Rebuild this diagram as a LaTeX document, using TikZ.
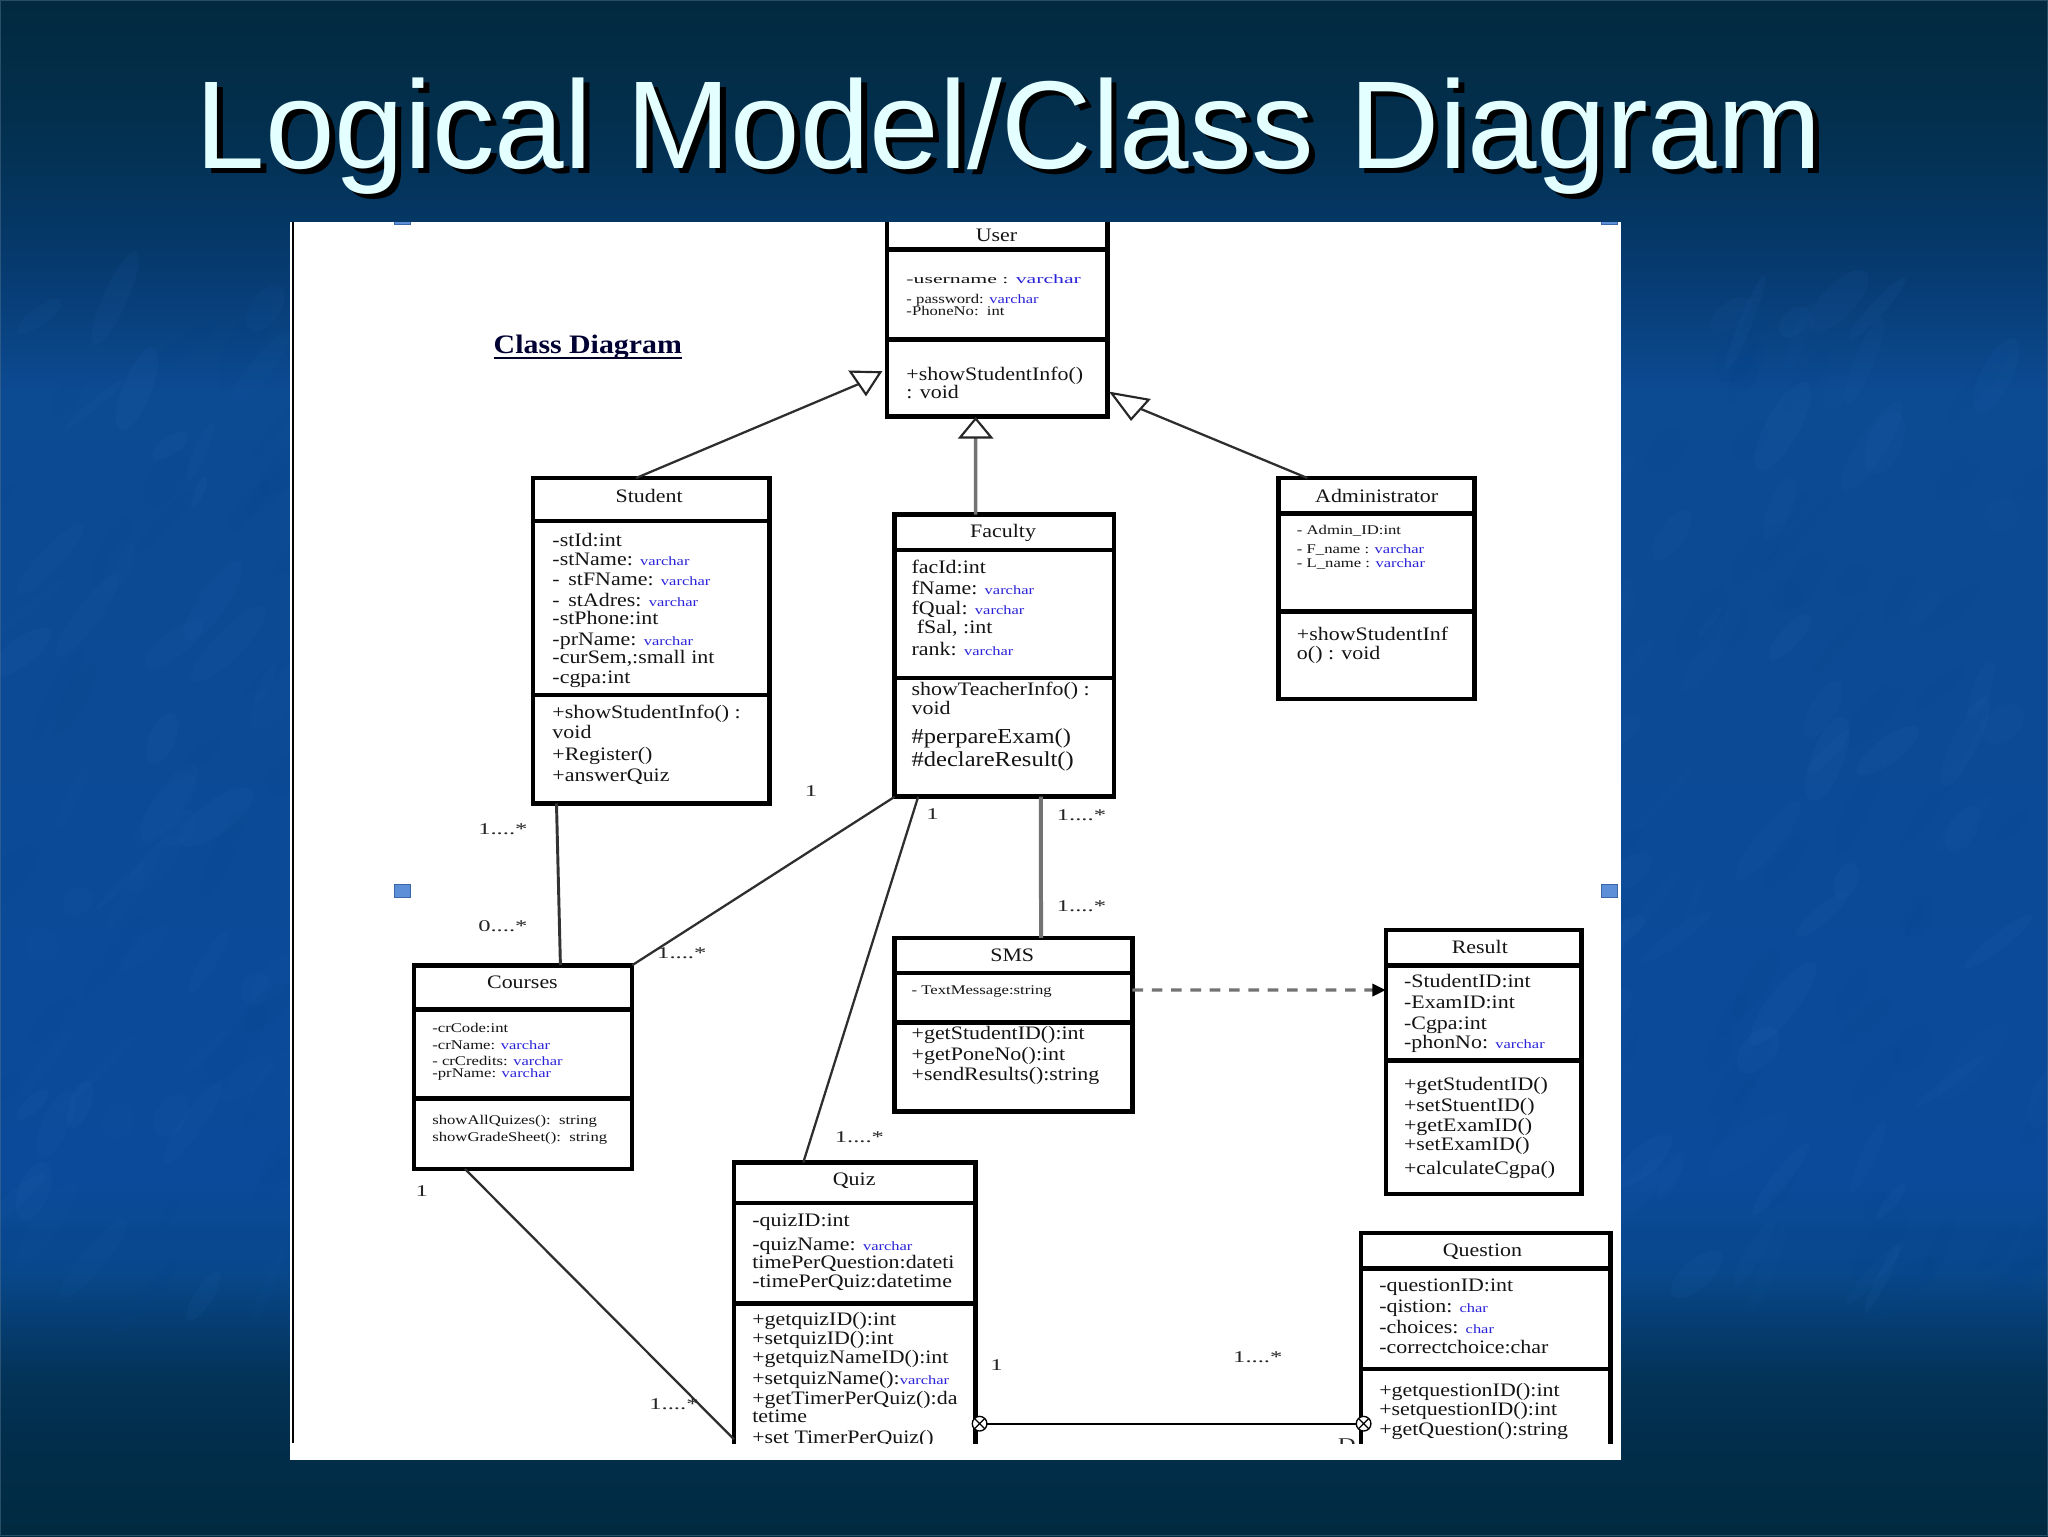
\documentclass[tikz,border=0pt]{standalone}
\usepackage{fontspec}
\usetikzlibrary{fit,arrows.meta,calc}
\setmainfont{Liberation Serif}
\newfontfamily\titlef{Liberation Sans}
\newfontfamily\mainf[FakeStretch=1.15]{Liberation Serif}
\newfontfamily\smallf[FakeStretch=1.25]{Liberation Serif}
\newfontfamily\varf[FakeStretch=1.3]{Liberation Serif}
\newfontfamily\widef[FakeStretch=1.7]{Liberation Serif}
\newfontfamily\multf[FakeStretch=1.5]{Liberation Serif}
\newfontfamily\headf[FakeStretch=1.12]{Liberation Serif Bold}
\definecolor{bgA}{HTML}{012A40}
\definecolor{bgB}{HTML}{022E4C}
\definecolor{bgC}{HTML}{033358}
\definecolor{bgD}{HTML}{08478A}
\definecolor{bgE}{HTML}{0B4A9A}
\definecolor{bgF}{HTML}{0C4A92}
\definecolor{bgG}{HTML}{063A6E}
\definecolor{bgH}{HTML}{03304F}
\definecolor{bgI}{HTML}{02293F}
\definecolor{mottleL}{HTML}{2E6DBA}
\definecolor{mottleD}{HTML}{07418A}
\definecolor{vcblue}{HTML}{2A22D8}
\definecolor{titlec}{HTML}{E4FFFF}
\definecolor{handle}{HTML}{5C8FD8}
\definecolor{handleb}{HTML}{3A66A8}
\pgfdeclareverticalshading{bgsh}{100bp}{color(0bp)=(bgA);color(25bp)=(bgA);color(28.23bp)=(bgB);color(30.19bp)=(bgC);color(33.55bp)=(bgD);color(36.73bp)=(bgE);color(62.24bp)=(bgF);color(66.5bp)=(bgG);color(70.75bp)=(bgH);color(75bp)=(bgI);color(100bp)=(bgI)}
\newcommand{\vchar}[1]{{\varf\fontsize{9.5}{11}\selectfont\color{vcblue}#1}}
\tikzset{
  cls/.style={draw=black,line width=3.4pt,fill=white,inner sep=0pt,outer sep=0pt},
  sepl/.style={draw=black,line width=3.4pt},
  ln/.style={anchor=base west,inner sep=0pt,outer sep=0pt,yshift=-5pt,text=black!92,font=\mainf\fontsize{14.3}{16}\selectfont},
  lnbig/.style={ln,yshift=-2pt,font=\mainf\fontsize{16}{18}\selectfont},
  sm/.style={anchor=base west,inner sep=0pt,outer sep=0pt,yshift=-3.5pt,text=black!92,font=\smallf\fontsize{10}{12}\selectfont},
  nm/.style={inner sep=0pt,outer sep=0pt,yshift=-1pt,text=black!92,font=\mainf\fontsize{14.3}{16}\selectfont},
  mult/.style={inner sep=0pt,outer sep=0pt,text=black!85,font=\multf\fontsize{12.3}{14}\selectfont},
  thin conn/.style={draw=black!82,line width=1.7pt},
  gray conn/.style={draw=black!55,line width=3pt},
  gen/.style={draw=black!85,line width=1.6pt,fill=white,line join=miter},
  xmark/.style={circle,draw=black,fill=white,line width=1pt,minimum size=11pt,inner sep=0pt,outer sep=0pt,
    path picture={\draw[black,line width=.9pt] (path picture bounding box.north west)--(path picture bounding box.south east)
      (path picture bounding box.north east)--(path picture bounding box.south west);}},
  handlebox/.style={draw=handleb,fill=handle,line width=.8pt,minimum width=12pt,minimum height=10pt,inner sep=0pt,outer sep=0pt},
  titlet/.style={anchor=base west,inner sep=0pt,outer sep=0pt,font=\titlef\fontsize{93.8}{100}\selectfont}
}
\begin{document}
\begin{tikzpicture}[x=0.98pt,y=-0.98pt]
\useasboundingbox (0,0) rectangle (1568,1176);
% background
\shade[shading=bgsh] (0,0) rectangle (1568,1176);
\pgfmathsetseed{17}
\foreach \i in {1,...,520}{
  \pgfmathsetmacro{\xx}{rnd*1568}
  \pgfmathsetmacro{\yy}{225+rnd*770}
  \pgfmathsetmacro{\aa}{35+rnd*35}
  \pgfmathsetmacro{\ll}{12+rnd*28}
  \pgfmathsetmacro{\ww}{3+rnd*10}
  \pgfmathsetmacro{\op}{0.03+rnd*0.07}
  \pgfmathparse{rnd<0.6 ? 1 : 0}
  \ifnum\pgfmathresult=1
    \fill[color=mottleL,opacity=\op,shift={(\xx,\yy)},rotate=\aa] (0,0) ellipse ({\ll pt} and {\ww pt});
  \else
    \fill[color=mottleD,opacity=\op,shift={(\xx,\yy)},rotate=\aa] (0,0) ellipse ({\ll pt} and {\ww pt});
  \fi
}
\draw[color=bgC!70!white,line width=1pt,opacity=.5] (0.5,0.5) rectangle (1567.5,1175.5);
% title
\node[titlet,text=black] (titleshadow) at (154.5,133) {Logical Model/Class Diagram};
\node[titlet,text=titlec] (title) at (150,129) {Logical Model/Class Diagram};
% white sheet
\fill[white] (222,170) rectangle (1241,1118);
\fill[black] (223.3,170) rectangle (225.3,1105);
\begin{scope}
\clip (222,170) rectangle (1241,1105);
\node[handlebox] (h1) at (308,167) {};
\node[handlebox] (h2) at (771,167) {};
\node[handlebox] (h3) at (1232,167) {};
\node[handlebox] (h4) at (308,682) {};
\node[handlebox] (h5) at (1232,682) {};
% class boxes
\node[cls,fit={(679,150)(848,319)}] (user) {};
\node[cls,fit={(408,366)(589,615)}] (student) {};
\node[cls,fit={(685,394)(853,610)}] (faculty) {};
\node[cls,fit={(979,366)(1129,535)}] (admin) {};
\node[cls,fit={(317,739)(484,895)}] (courses) {};
\node[cls,fit={(685,718)(867,851)}] (sms) {};
\node[cls,fit={(1061,712)(1211,914)}] (result) {};
\node[cls,fit={(562,890)(747,1130)}] (quiz) {};
\node[cls,fit={(1042,944)(1233,1130)}] (question) {};
% compartments
\foreach \bx/\ya/\yb in {user/191/260,student/399/532,faculty/421/519,admin/393/468,courses/773/841,sms/745/783,result/739/812,quiz/921/998,question/971/1048}{
  \draw[sepl] (\bx.west |- 0,\ya) -- (\bx.east |- 0,\ya);
  \draw[sepl] (\bx.west |- 0,\yb) -- (\bx.east |- 0,\yb);
}
% anchors of free ends
\coordinate (trS) at (657.5,294);
\coordinate (trF) at (747,335);
\coordinate (trA) at (872,312.5);
\coordinate (quizW) at (562,1102);
% generalisations
\draw[thin conn] ([xshift=-11.3pt]student.north) -- (trS);
\draw[gen] (651,284.5) -- (674,285) -- (663,302) -- cycle;
\draw[gray conn,line width=2.6pt] ([xshift=-21.6pt]faculty.north) -- (trF);
\draw[gen] (735,335) -- (759,335) -- (747,320.5) -- cycle;
\draw[thin conn] ([xshift=-52pt]admin.north) -- (trA);
\draw[gen] (851,301) -- (879.5,306) -- (866,321) -- cycle;
% associations
\draw[draw=black!80,line width=2.2pt] ([xshift=-71pt]student.south) -- ([xshift=28pt]courses.north);
\draw[thin conn] (faculty.south west) -- (courses.north east);
\draw[thin conn] ([xshift=-64.7pt]faculty.south) -- ([xshift=-38.7pt]quiz.north);
\draw[gray conn] ([xshift=27.4pt]faculty.south) -- ([xshift=20.6pt]sms.north);
\draw[thin conn] ([xshift=-43.6pt]courses.south) -- (quizW);
\draw[draw=black!55,line width=2.5pt,dash pattern=on 8pt off 6.5pt,-{Triangle[length=10pt,width=9pt,black]}] ([yshift=26pt]sms.east) -- ([yshift=53.9pt]result.west);
\node[xmark] (qa) at (750,1090) {};
\node[xmark] (qb) at (1044,1090) {};
\draw[draw=black,line width=1.4pt] (qa) -- (qb);
% User
\node[nm] (n1) at (763,179) {User};
\node[sm,yshift=-0.5pt,font=\widef\fontsize{9.6}{11}\selectfont] (u1) at (694,213) {-username : {\color{vcblue}varchar}};
\node[sm] (u2) at (694,229) {- password: \vchar{varchar}};
\node[sm] (u3) at (694,238) {-PhoneNo:\ \ int};
\node[ln] (u4) at (694,286) {+showStudentInfo()};
\node[ln] (u5) at (694,300) {: void};
% Student
\node[nm] (n2) at (497,379) {Student};
\node[ln] (s1) at (423,413) {-stId:int};
\node[ln] (s2) at (423,428) {-stName: \vchar{varchar}};
\node[ln] (s3) at (423,443) {- \,stFName: \vchar{varchar}};
\node[ln] (s4) at (423,459) {- \,stAdres: \vchar{varchar}};
\node[ln] (s5) at (423,473) {-stPhone:int};
\node[ln] (s6) at (423,489) {-prName: \vchar{varchar}};
\node[ln] (s7) at (423,503) {-curSem,:small int};
\node[ln] (s8) at (423,518) {-cgpa:int};
\node[ln] (s9) at (423,545) {+showStudentInfo() :};
\node[ln] (s10) at (423,560) {void};
\node[ln] (s11) at (423,577) {+Register()};
\node[ln] (s12) at (423,593) {+answerQuiz};
% Faculty
\node[nm] (n3) at (768,407) {Faculty};
\node[ln] (f1) at (698,434) {facId:int};
\node[ln] (f2) at (698,450) {fName: \vchar{varchar}};
\node[ln] (f3) at (698,465) {fQual: \vchar{varchar}};
\node[ln] (f4) at (702,480) {fSal, :int};
\node[ln] (f5) at (698,497) {rank: \vchar{varchar}};
\node[ln] (f6) at (698,527) {showTeacherInfo() :};
\node[ln] (f7) at (698,542) {void};
\node[lnbig] (f8) at (698,562) {\#perpareExam()};
\node[lnbig] (f9) at (698,580) {\#declareResult()};
% Administrator
\node[nm] (n4) at (1054,379) {Administrator};
\node[sm] (a1) at (993,406) {- Admin\_ID:int};
\node[sm] (a2) at (993,420) {- F\_name : \vchar{varchar}};
\node[sm] (a3) at (993,431) {- L\_name : \vchar{varchar}};
\node[ln] (a4) at (993,485) {+showStudentInf};
\node[ln] (a5) at (993,500) {o() : void};
% Courses
\node[nm] (n5) at (400,751) {Courses};
\node[sm] (c1) at (331,787) {-crCode:int};
\node[sm] (c2) at (331,800) {-crName: \vchar{varchar}};
\node[sm] (c3) at (331,812) {- crCredits: \vchar{varchar}};
\node[sm] (c4) at (331,821) {-prName: \vchar{varchar}};
\node[sm] (c5) at (331,857) {showAllQuizes():\ \ string};
\node[sm] (c6) at (331,870) {showGradeSheet():\ \ string};
% SMS
\node[nm] (n6) at (775,730) {SMS};
\node[sm] (m1) at (698,758) {- TextMessage:string};
\node[ln] (m2) at (698,791) {+getStudentID():int};
\node[ln] (m3) at (698,807) {+getPoneNo():int};
\node[ln] (m4) at (698,822) {+sendResults():string};
% Result
\node[nm] (n7) at (1133,724) {Result};
\node[ln] (r1) at (1075,751) {-StudentID:int};
\node[ln] (r2) at (1075,767) {-ExamID:int};
\node[ln] (r3) at (1075,783) {-Cgpa:int};
\node[ln] (r4) at (1075,798) {-phonNo: \vchar{varchar}};
\node[ln] (r5) at (1075,830) {+getStudentID()};
\node[ln] (r6) at (1075,846) {+setStuentID()};
\node[ln] (r7) at (1075,861) {+getExamID()};
\node[ln] (r8) at (1075,876) {+setExamID()};
\node[ln] (r9) at (1075,894) {+calculateCgpa()};
% Quiz
\node[nm] (n8) at (654,903) {Quiz};
\node[ln] (q1) at (576,934) {-quizID:int};
\node[ln] (q2) at (576,952) {-quizName: \vchar{varchar}};
\node[ln] (q3) at (576,966) {timePerQuestion:dateti};
\node[ln] (q4) at (576,981) {-timePerQuiz:datetime};
\node[ln] (q5) at (576,1010) {+getquizID():int};
\node[ln] (q6) at (576,1024) {+setquizID():int};
\node[ln] (q7) at (576,1039) {+getquizNameID():int};
\node[ln] (q8) at (576,1055) {+setquizName():\vchar{varchar}};
\node[ln] (q9) at (576,1070) {+getTimerPerQuiz():da};
\node[ln] (q10) at (576,1084) {tetime};
\node[ln] (q11) at (576,1100) {+set TimerPerQuiz()};
% Question
\node[nm] (n9) at (1135,957) {Question};
\node[ln] (k1) at (1056,984) {-questionID:int};
\node[ln] (k2) at (1056,1000) {-qistion: \vchar{char}};
\node[ln] (k3) at (1056,1016) {-choices: \vchar{char}};
\node[ln] (k4) at (1056,1031) {-correctchoice:char};
\node[ln] (k5) at (1056,1064) {+getquestionID():int};
\node[ln] (k6) at (1056,1079) {+setquestionID():int};
\node[ln] (k7) at (1056,1094) {+getQuestion():string};
% multiplicities
\node[mult] (l1) at (385,635) {1....*};
\node[mult] (l2) at (385,709) {0....*};
\node[mult] (l3) at (621,606) {1};
\node[mult] (l4) at (714,623) {1};
\node[mult] (l5) at (828,624) {1....*};
\node[mult] (l6) at (828,694) {1....*};
\node[mult] (l7) at (522,730) {1....*};
\node[mult] (l8) at (323,912) {1};
\node[mult] (l9) at (658,871) {1....*};
\node[mult] (l10) at (516,1075) {1....*};
\node[mult] (l11) at (763,1045) {1};
\node[mult] (l12) at (963,1039) {1....*};
\node[mult] (l13) at (1031,1106) {D};
% heading
\node[anchor=base west,inner sep=0pt,outer sep=0pt,text=black!80!blue,font=\headf\fontsize{20}{22}\selectfont] (heading) at (378,271) {Class Diagram};
\draw[black!85!blue,line width=1.5pt] ([yshift=-2.8pt]heading.base west) -- ([yshift=-2.8pt]heading.base east);
\end{scope}
\end{tikzpicture}
\end{document}
